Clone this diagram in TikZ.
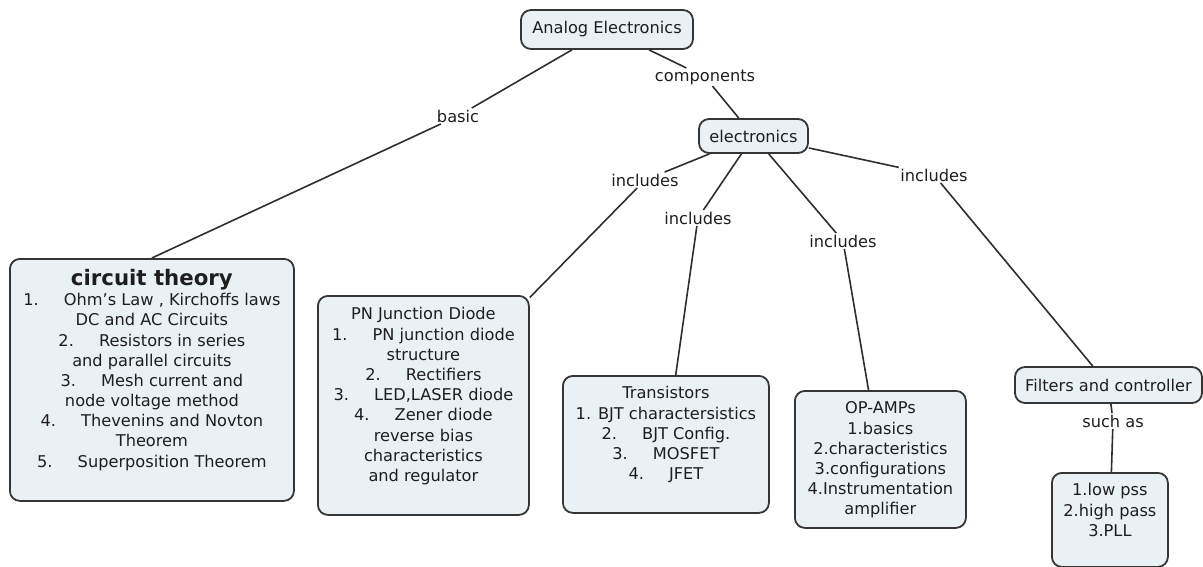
\documentclass[tikz,border=0pt]{standalone}
\usepackage{fontspec}
\setmainfont{DejaVu Sans}
\definecolor{boxfill}{HTML}{EAF1F5}
\definecolor{boxline}{HTML}{353535}
\definecolor{inkdark}{HTML}{1E1E1E}
\definecolor{linkdark}{HTML}{2E2E2E}
% gap between an item number and its text
\newcommand\itemgap{\hspace{1.55em}}
% top-aligned, centred body of a panel: width, height, first-line height, text
\newcommand\panelbody[4]{\parbox[t][#2pt][t]{#1pt}{\centering\rule{0pt}{#3pt}#4}}
\begin{document}
\begin{tikzpicture}[x=1pt,y=-1pt,
  every node/.style={font=\fontsize{16.2}{20.2}\selectfont, text=inkdark},
  concept/.style={draw=boxline, fill=boxfill, line width=1.8pt,
    rounded corners=10pt, inner sep=0pt},
  panel/.style={concept, anchor=north west},
  tag/.style={concept, anchor=center},
  lbl/.style={inner sep=1.5pt},
  conn/.style={draw=linkdark, line width=1.6pt}]
\useasboundingbox (0,0) rectangle (1203,567);

% top concepts
\node[tag, minimum width=172pt, minimum height=39pt] (ae) at (607,29.5) {Analog Electronics};
\node[tag, minimum width=109pt, minimum height=34pt] (el) at (753.5,136) {electronics};
\node[tag, minimum width=187pt, minimum height=36pt] (fc) at (1108.5,385) {Filters and controller};

% panels with lists
\node[panel] (ct) at (9,258) {\panelbody{284}{242}{26.5}{%
  {\fontsize{21.3}{20.2}\selectfont\bfseries circuit theory}\\
  1.\itemgap Ohm’s Law , Kirchoffs laws\\
  DC and AC Circuits\\
  2.\itemgap Resistors in series\\
  and parallel circuits\\
  3.\itemgap Mesh current and\\
  node voltage method\\
  4.\itemgap Thevenins and Novton\\
  Theorem\\
  5.\itemgap Superposition Theorem}};

\node[panel] (pn) at (317,295) {\panelbody{211}{219}{24}{%
  PN Junction Diode\\
  1.\itemgap PN junction diode\\
  structure\\
  2.\itemgap Rectifiers\\
  3.\itemgap LED,LASER diode\\
  4.\itemgap Zener diode\\
  reverse bias\\
  characteristics\\
  and regulator}};

\node[panel] (tr) at (562,375) {\panelbody{206}{137}{23}{%
  Transistors\\
  1. BJT charactersistics\\
  2.\itemgap BJT Config.\\
  3.\itemgap MOSFET\\
  4.\itemgap JFET}};

\node[panel] (op) at (794,390) {\panelbody{171}{137}{23}{%
  OP-AMPs\\
  1.basics\\
  2.characteristics\\
  3.configurations\\
  4.Instrumentation\\
  amplifier}};

\node[panel] (lp) at (1051,472) {\panelbody{116}{94}{23}{%
  1.low pss\\
  2.high pass\\
  3.PLL}};

% link labels
\node[lbl] (basic) at (458,116) {basic};
\node[lbl] (comp) at (705,77) {components};
\node[lbl] (inc1) at (645,180) {includes};
\node[lbl] (inc2) at (698,218) {includes};
\node[lbl] (inc3) at (843,241) {includes};
\node[lbl] (inc4) at (934,175) {includes};
\node[lbl] (such) at (1113,421) {such as};

% links
\draw[conn] (ae) -- (basic);
\draw[conn] (basic) -- (ct.north);
\draw[conn] (ae) -- (comp);
\draw[conn] (comp) -- (el);
\draw[conn] (el) -- (inc1);
\draw[conn] (inc1) -- (pn);
\draw[conn] (el) -- (inc2);
\draw[conn] (inc2) -- (tr);
\draw[conn] (el) -- (inc3);
\draw[conn] (inc3) -- (op);
\draw[conn] (el) -- (inc4);
\draw[conn] (inc4) -- (fc);
\draw[conn] (fc) -- (such);
\draw[conn] (such) -- (lp);
\end{tikzpicture}
\end{document}
